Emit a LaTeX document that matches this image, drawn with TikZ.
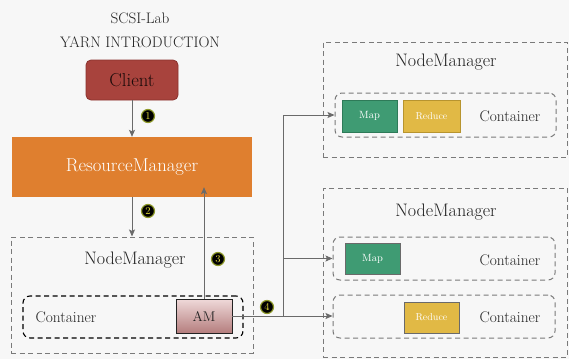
\documentclass[tikz,border=0pt]{standalone}
\usepackage{xcolor}
\usetikzlibrary{arrows.meta}
\usetikzlibrary{positioning}

\definecolor{paper}{HTML}{F7F7F7}
\definecolor{clientred}{HTML}{A8433D}
\definecolor{clientedge}{HTML}{8A322E}
\definecolor{rmorange}{HTML}{DF7F2F}
\definecolor{mapgreen}{HTML}{3F9B73}
\definecolor{mapedge}{HTML}{2E7A58}
\definecolor{redyellow}{HTML}{E1B945}
\definecolor{rededge}{HTML}{B7942F}
\definecolor{amtop}{HTML}{EFD9D9}
\definecolor{ambottom}{HTML}{B57E7E}
\definecolor{linegray}{HTML}{6A6A6A}
\definecolor{dashgray}{HTML}{7A7A7A}
\definecolor{inkgray}{HTML}{222222}
\definecolor{markring}{HTML}{8F9A2A}
\definecolor{markdigit}{HTML}{E8E03A}

\newcommand{\fs}[1]{\fontsize{#1}{#1}\selectfont}

\tikzset{
  flow/.style={draw=linegray, line width=0.9pt, -{Stealth[length=7pt, width=6pt, inset=1.5pt]}},
  nmbox/.style={draw=dashgray, line width=1pt, dash pattern=on 5pt off 3.5pt},
  contbox/.style={draw=dashgray, line width=1pt, dash pattern=on 5pt off 3.5pt, rounded corners=7pt},
  task/.style={draw=#1, line width=0.8pt, text=white, inner sep=0pt, font=\fs{10.5}},
  label/.style={text=inkgray, inner sep=0pt},
  marker/.style={circle, fill=black, draw=markring, line width=1.2pt, text=markdigit,
    inner sep=0pt, minimum size=13pt, font=\fs{10.5}},
}

\begin{document}
\begin{tikzpicture}[x=1pt, y=-1pt]
  % paper
  \fill[paper] (0,0) rectangle (569,359);
  \useasboundingbox (0,0) rectangle (569,359);

  % heading
  \node[label, font=\fs{15.2}] (lab) at (140,18) {SCSI-Lab};
  \node[label, font=\fs{15.2}] (intro) at (140,42) {YARN INTRODUCTION};

  % client and resource manager
  \node[fill=clientred, draw=clientedge, line width=0.8pt, rounded corners=5pt,
    minimum width=92pt, minimum height=40pt, text=black!85!clientred, font=\fs{18.7}] (client) at (132,80) {Client};
  \node[fill=rmorange, minimum width=240pt, minimum height=60pt, text=white, font=\fs{18.7}] (rm) at (132,167) {ResourceManager};

  % node manager running the application master
  \node[nmbox, minimum width=242pt, minimum height=116pt] (nmL) at (132,295) {};
  \node[label, font=\fs{18.1}] (nmLtxt) at (135,260) {NodeManager};
  \node[draw=black, line width=1.1pt, dash pattern=on 5pt off 3.5pt, rounded corners=7pt,
    minimum width=220pt, minimum height=42pt] (contL) at (133,317) {};
  \node[label, font=\fs{15.4}] (contLtxt) at (66,317) {Container};
  \node[draw=inkgray, line width=0.8pt, top color=amtop, bottom color=ambottom,
    minimum width=56pt, minimum height=34pt, text=inkgray, font=\fs{14}] (am) at (204,316) {AM};

  % upper node manager
  \node[nmbox, minimum width=244pt, minimum height=115pt] (nmA) at (445,99.5) {};
  \node[label, font=\fs{18.1}] (nmAtxt) at (446,62) {NodeManager};
  \node[contbox, minimum width=221pt, minimum height=44pt] (contA) at (445.5,115) {};
  \node[task=mapedge, fill=mapgreen, minimum width=55pt, minimum height=32pt] (mapA) at (369.5,116) {Map};
  \node[task=rededge, fill=redyellow, minimum width=57pt, minimum height=32pt, font=\fs{10}] (redA) at (431.5,116) {Reduce};
  \node[label, font=\fs{15.4}] (contAtxt) at (510,116) {Container};

  % lower node manager
  \node[nmbox, minimum width=244pt, minimum height=169pt] (nmB) at (445,272.5) {};
  \node[label, font=\fs{18.1}] (nmBtxt) at (446,212) {NodeManager};
  \node[contbox, minimum width=222pt, minimum height=43pt] (contB1) at (444,258.5) {};
  \node[task=linegray, fill=mapgreen, minimum width=55pt, minimum height=31pt] (mapB) at (372.5,258.5) {Map};
  \node[label, font=\fs{15.4}] (contB1txt) at (510,260) {Container};
  \node[contbox, minimum width=222pt, minimum height=43pt] (contB2) at (444,316.5) {};
  \node[task=linegray, fill=redyellow, minimum width=55pt, minimum height=31pt, font=\fs{10}] (redB) at (431.5,317.5) {Reduce};
  \node[label, font=\fs{15.4}] (contB2txt) at (510,317) {Container};

  % requests
  \draw[flow] (client) -- (rm);
  \draw[flow] (rm) -- (nmL);
  \draw[flow, shorten >=-10pt] (am.north) -- (am.north |- rm.south);
  \coordinate (split) at (283,316);
  \draw[flow] (am.east) -- (am.east -| contB2.west);
  \draw[flow] (split) |- (contA.west);
  \draw[flow] (split |- contB1.west) -- (contB1.west);

  % step numbers
  \node[marker] (m1) at (148,116) {1};
  \node[marker] (m2) at (148,211) {2};
  \node[marker] (m3) at (218,259) {3};
  \node[marker] (m4) at (267,307) {4};
\end{tikzpicture}
\end{document}
